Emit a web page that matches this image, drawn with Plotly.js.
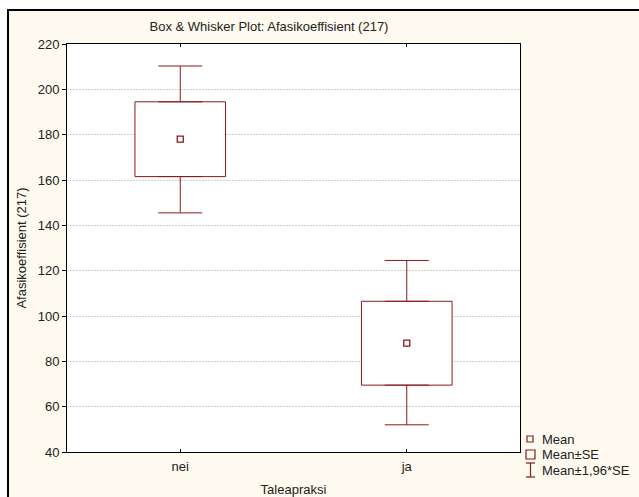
<!DOCTYPE html>
<html>
<head>
<meta charset="utf-8">
<script src="https://cdn.plot.ly/plotly-3.0.1.min.js"></script>
<style>
  html, body { margin: 0; padding: 0; background: #ffffff; }
  #wrap { position: absolute; left: 7px; top: 9px; border-left: 2px solid #000; border-top: 2px solid #000; }
  #chart { width: 630px; height: 486px; }
</style>
</head>
<body>
<div id="wrap"><div id="chart"></div></div>
<script>
// Data
var categories = ["nei", "ja"];
var meanValues = [178, 88];
var seLow = [161.5, 69.5];       // Mean - SE
var seHigh = [194.5, 106.5];     // Mean + SE
var ciLow = [145.5, 52];         // Mean - 1,96*SE
var ciHigh = [210.3, 124.5];     // Mean + 1,96*SE
var yTicks = [40, 60, 80, 100, 120, 140, 160, 180, 200, 220];
var legendLabels = ["Mean", "Mean\u00b1SE", "Mean\u00b11,96*SE"];

var RED = "#8b1a1a";
var FONT = "Liberation Sans, Arial, sans-serif";
var FS = 13;
var TXT = "#222222";

var W = 630, H = 486;
var M = { l: 58, r: 119, t: 33, b: 45 };
var PW = W - M.l - M.r, PH = H - M.t - M.b;
function px(x) { return (x - 9 - M.l) / PW; }
function py(y) { return 1 - (y - 11 - M.t) / PH; }

// Box (Mean ± SE) as floating bars
var boxTrace = {
  type: "bar",
  x: categories,
  base: seLow,
  y: seHigh.map(function (h, i) { return h - seLow[i]; }),
  width: 0.4,
  marker: { color: "#ffffff", line: { color: RED, width: 1 } },
  showlegend: false,
  hoverinfo: "skip"
};

// Upper whiskers: from box top up to Mean + 1,96*SE
var upperWhisker = {
  type: "scatter", mode: "markers",
  x: categories, y: seHigh,
  marker: { size: 1, opacity: 0 },
  error_y: { type: "data", symmetric: false,
    array: ciHigh.map(function (v, i) { return v - seHigh[i]; }),
    arrayminus: seHigh.map(function () { return 0; }),
    color: RED, thickness: 1, width: 22 },
  showlegend: false, hoverinfo: "skip"
};

// Lower whiskers: from box bottom down to Mean - 1,96*SE
var lowerWhisker = {
  type: "scatter", mode: "markers",
  x: categories, y: seLow,
  marker: { size: 1, opacity: 0 },
  error_y: { type: "data", symmetric: false,
    array: seLow.map(function () { return 0; }),
    arrayminus: seLow.map(function (v, i) { return v - ciLow[i]; }),
    color: RED, thickness: 1, width: 22 },
  showlegend: false, hoverinfo: "skip"
};

var meanTrace = {
  type: "scatter",
  mode: "markers",
  x: categories,
  y: meanValues,
  marker: { symbol: "square-open", size: 6, color: RED, line: { width: 1.3, color: RED } },
  showlegend: false,
  hoverinfo: "skip"
};

var shapes = [
  { type: "rect", xref: "paper", yref: "paper", x0: px(527), x1: px(533), y0: py(442), y1: py(436), line: { color: RED, width: 1.2 } },
  { type: "rect", xref: "paper", yref: "paper", x0: px(526), x1: px(535), y0: py(459), y1: py(450), line: { color: RED, width: 1.2 } },
  { type: "line", xref: "paper", yref: "paper", x0: px(530.5), x1: px(530.5), y0: py(463), y1: py(477), line: { color: RED, width: 1.2 } },
  { type: "line", xref: "paper", yref: "paper", x0: px(526), x1: px(535), y0: py(463), y1: py(463), line: { color: RED, width: 1.2 } },
  { type: "line", xref: "paper", yref: "paper", x0: px(526), x1: px(535), y0: py(477), y1: py(477), line: { color: RED, width: 1.2 } }
];

var legendY = [439, 454, 470];
var annotations = legendLabels.map(function (t, i) {
  return { xref: "paper", yref: "paper", x: px(540), y: py(legendY[i]), xanchor: "left", yanchor: "middle",
    text: t, showarrow: false, font: { family: FONT, size: FS, color: TXT } };
});

var layout = {
  width: W, height: H,
  margin: M,
  paper_bgcolor: "#fefaef",
  plot_bgcolor: "#ffffff",
  font: { family: FONT, size: FS, color: TXT },
  showlegend: false,
  bargap: 0,
  title: {
    text: "Box & Whisker Plot: Afasikoeffisient (217)",
    font: { family: FONT, size: FS, color: TXT },
    xref: "container", yref: "container",
    x: (269 - 9) / W, xanchor: "center",
    y: 1 - (26 - 11) / H, yanchor: "middle"
  },
  xaxis: {
    type: "category",
    range: [-0.5, 1.5],
    showline: true, linecolor: "#000", linewidth: 1, mirror: "ticks",
    ticks: "inside", ticklen: 3, tickcolor: "#000",
    showgrid: false, zeroline: false,
    tickfont: { family: FONT, size: FS, color: TXT },
    ticklabelstandoff: 2,
    title: { text: "Taleapraksi", font: { family: FONT, size: FS, color: TXT }, standoff: 14 }
  },
  yaxis: {
    range: [40, 220],
    tickvals: yTicks,
    showline: true, linecolor: "#000", linewidth: 1, mirror: true,
    ticks: "outside", ticklen: 4, tickcolor: "#000",
    showgrid: true, gridcolor: "#cfcfcf", griddash: "2px,1px", gridwidth: 1,
    zeroline: false,
    tickfont: { family: FONT, size: FS, color: TXT },
    title: { text: "Afasikoeffisient (217)", font: { family: FONT, size: FS, color: TXT }, standoff: 8 }
  },
  yaxis2: {
    overlaying: "y", side: "right", range: [40, 220], tickvals: yTicks,
    showticklabels: false, ticks: "inside", ticklen: 3, tickcolor: "#000",
    showgrid: false, zeroline: false, showline: false
  },
  shapes: shapes,
  annotations: annotations
};

Plotly.newPlot("chart", [boxTrace, upperWhisker, lowerWhisker, meanTrace], layout, { displayModeBar: false, staticPlot: true });
</script>
</body>
</html>
